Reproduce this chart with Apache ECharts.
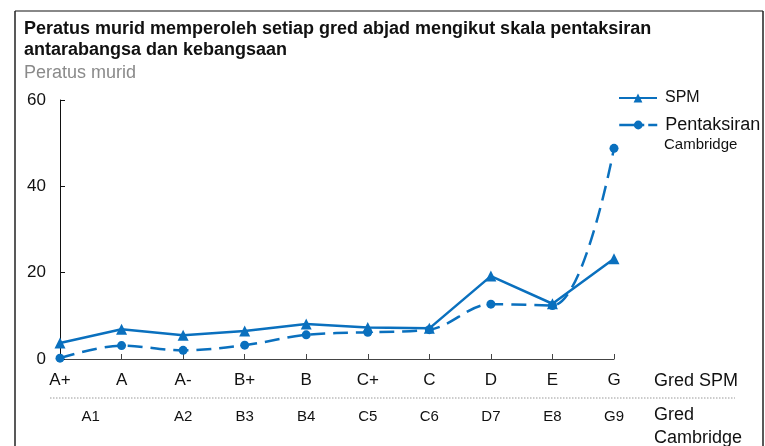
<!DOCTYPE html>
<html><head><meta charset="utf-8">
<script src="https://cdn.jsdelivr.net/npm/echarts@6/dist/echarts.min.js"></script>
<style>html,body{margin:0;padding:0;background:#fff}#c{width:765px;height:446px}</style>
</head><body><div id="c"></div>
<script>
const categories = ['A+','A','A-','B+','B','C+','C','D','E','G'];
const cambridgeTicks = ['', 'A1', '', '', 'A2', '', 'B3', '', 'B4', '', 'C5', '', 'C6', '', 'D7', '', 'E8', '', 'G9'];
const spm = [3.7, 6.9, 5.5, 6.5, 8.1, 7.3, 7.1, 19.2, 12.8, 23.2];
const cambridge = [0.2, 3.1, 2.0, 3.2, 5.6, 6.2, 6.8, 12.7, 12.4, 48.8];
const yTicks = [0, 20, 40, 60];

const blue = '#0a70be';
const font = 'Liberation Sans, Arial, sans-serif';
const chart = echarts.init(document.getElementById('c'));
const legendBase = {
  orient: 'vertical', left: 613, itemWidth: 38, itemHeight: 11,
  textStyle: { fontSize: 16, color: '#111', fontFamily: font, padding: [0, 0, 0, 3] }
};
chart.setOption({
  animation: false,
  textStyle: { fontFamily: font },
  title: {
    text: 'Peratus murid memperoleh setiap gred abjad mengikut skala pentaksiran\nantarabangsa dan kebangsaan',
    subtext: 'Peratus murid',
    left: 19, top: 14,
    itemGap: 3,
    textStyle: { fontSize: 18, fontWeight: 'bold', color: '#111', lineHeight: 21, fontFamily: font },
    subtextStyle: { fontSize: 18, color: '#8a8a8a', fontFamily: font }
  },
  legend: [
    Object.assign({}, legendBase, { top: 85, data: ['SPM'] }),
    Object.assign({}, legendBase, { top: 111,
      data: [{ name: 'Pentaksiran', lineStyle: { type: [25, 4], width: 2.5, color: blue } }],
      textStyle: { fontSize: 18, color: '#111', fontFamily: font, padding: [0, 0, 0, 3] } })
  ],
  grid: { left: 60, right: 151, top: 100, bottom: 87 },
  xAxis: [{
    type: 'category', data: categories, boundaryGap: false,
    axisLine: { lineStyle: { color: '#444', width: 1 } },
    axisTick: { inside: true, length: 5, lineStyle: { color: '#444' } },
    axisLabel: { fontSize: 17, color: '#111', margin: 13, fontFamily: font }
  }, {
    type: 'category', data: cambridgeTicks, boundaryGap: false, position: 'bottom',
    axisLine: { show: false }, axisTick: { show: false },
    axisLabel: { interval: 0, fontSize: 15, color: '#111', margin: 50, fontFamily: font }
  }],
  yAxis: {
    type: 'value', min: yTicks[0], max: yTicks[yTicks.length - 1], interval: 20,
    splitLine: { show: false },
    axisLine: { show: true, lineStyle: { color: '#111', width: 1 } },
    axisTick: { show: true, inside: true, length: 5, lineStyle: { color: '#111' } },
    axisLabel: { fontSize: 17, color: '#111', margin: 14, fontFamily: font }
  },
  series: [{
    name: 'SPM', type: 'line', data: spm,
    symbol: 'triangle', symbolSize: 11, showAllSymbol: true,
    lineStyle: { color: blue, width: 2.5 }, itemStyle: { color: blue }
  }, {
    name: 'Pentaksiran', type: 'line', data: cambridge, smooth: 0.35,
    symbol: 'circle', symbolSize: 9,
    lineStyle: { color: blue, width: 2.5, type: [15, 8] }, itemStyle: { color: blue }
  }],
  graphic: [
    { type: 'line', shape: { x1: 15, y1: 11, x2: 763, y2: 11 }, style: { stroke: '#888', lineWidth: 2 } },
    { type: 'line', shape: { x1: 15, y1: 11, x2: 15, y2: 446 }, style: { stroke: '#222', lineWidth: 1.5 } },
    { type: 'line', shape: { x1: 763, y1: 11, x2: 763, y2: 446 }, style: { stroke: '#222', lineWidth: 1.5 } },
    { type: 'line', shape: { x1: 50, y1: 398, x2: 735, y2: 398 }, style: { stroke: '#999', lineWidth: 1, lineDash: [1.5, 1.5] } },
    { type: 'text', left: 664, top: 137, style: { text: 'Cambridge', fontSize: 15, fill: '#111', fontFamily: font } },
    { type: 'text', left: 654, top: 372, style: { text: 'Gred SPM', fontSize: 18, fill: '#111', fontFamily: font } },
    { type: 'text', left: 654, top: 404, style: { text: 'Gred\nCambridge', fontSize: 18, lineHeight: 23, fill: '#111', fontFamily: font } }
  ]
});
</script></body></html>
